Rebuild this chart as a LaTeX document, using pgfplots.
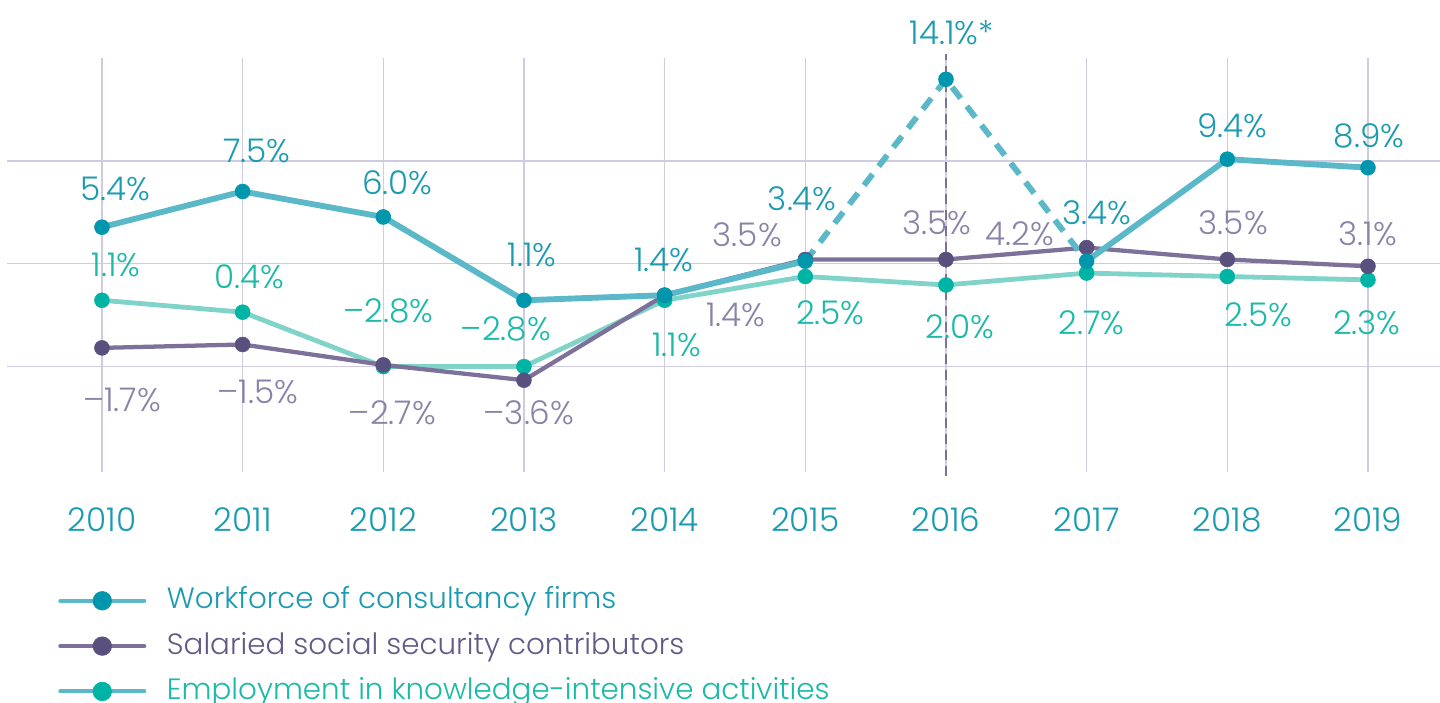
\documentclass[border=0pt]{standalone}
\usepackage{fontspec}
\setmainfont{Poppins}[UprightFont=* Light]
\usepackage{pgfplots}
\usepackage{pgfplotstable}
\pgfplotsset{compat=1.18}

\definecolor{cline}{RGB}{91,184,201}
\definecolor{cmark}{RGB}{0,150,174}
\definecolor{ctext}{RGB}{26,155,176}
\definecolor{sline}{RGB}{125,112,153}
\definecolor{smark}{RGB}{90,80,125}
\definecolor{stext}{RGB}{139,130,168}
\definecolor{slegend}{RGB}{100,90,135}
\definecolor{kline}{RGB}{128,211,200}
\definecolor{kmark}{RGB}{0,180,165}
\definecolor{ktext}{RGB}{26,185,168}
\definecolor{gridc}{RGB}{208,204,224}

% x, y, label offset (dx right, dy up) in pixels of the 1440 px picture
\pgfplotstableread{
x y dx dy lab
2010 5.4 13 38 5.4\%
2011 7.5 14 41 7.5\%
2012 6.0 14 34 6.0\%
2013 1.1 8 45 1.1\%
2014 1.4 -1 35 1.4\%
2015 3.4 -3 62 3.4\%
2016 14.1 6 47 14.1\%*
2017 3.4 10 48 3.4\%
2018 9.4 5 33 9.4\%
2019 8.9 1 32 8.9\%
}\consult

\pgfplotstableread{
x y dx dy lab
2010 -1.7 20 -52 –1.7\%
2011 -1.5 15 -47 –1.5\%
2012 -2.7 9 -48 –2.7\%
2013 -3.6 5 -33 –3.6\%
2014 1.4 71 -20 1.4\%
2015 3.5 -58 25 3.5\%
2016 3.5 -9 37 3.5\%
2017 4.2 -67 14 4.2\%
2018 3.5 6 37 3.5\%
2019 3.1 0 33 3.1\%
}\salaried

\pgfplotstableread{
x y dx dy lab
2010 1.1 14 35 1.1\%
2011 0.4 7 35 0.4\%
2012 -2.8 5 56 –2.8\%
2013 -2.8 -18 38 –2.8\%
2014 1.1 12 -45 1.1\%
2015 2.5 25 -36 2.5\%
2016 2.0 14 -42 2.0\%
2017 2.7 5 -50 2.7\%
2018 2.5 31 -38 2.5\%
2019 2.3 -1 -43 2.3\%
}\knowledge

\pgfplotsset{
  labelled/.style={
    only marks,
    mark=*,
    mark size=5.6pt,
    point meta=explicit symbolic,
    visualization depends on={\thisrow{dx} \as \dx},
    visualization depends on={\thisrow{dy} \as \dy},
    nodes near coords,
    nodes near coords style={anchor=center, inner sep=0pt,
      xshift=\dx*0.75pt, yshift=\dy*0.75pt,
      font=\fontsize{24.5}{24.5}\selectfont, text=#1},
  },
  legimg/.style n args={2}{
    legend image code/.code={
      \draw[line width=3pt, color=#1, line cap=round] (0pt,0pt) -- (63pt,0pt);
      \fill[#2] (31.5pt,0pt) circle (7pt);
    }
  },
}

\begin{document}
\begin{tikzpicture}
\useasboundingbox (0,0) rectangle (1080pt,-527.25pt);
\begin{axis}[
  at={(5.25pt,-354pt)}, anchor=south west,
  width=1074.75pt, height=310.5pt, scale only axis,
  xmin=2009.325, xmax=2019.512,
  ymin=-9, ymax=15.35,
  clip=false,
  axis line style={draw=none},
  xtick={2010,2011,2012,2013,2014,2015,2016,2017,2018,2019},
  xticklabels={2010,2011,2012,2013,2014,2015,2016,2017,2018,2019},
  ytick={-2.8,3.25,9.3},
  yticklabels={},
  major tick length=0pt,
  xmajorgrids, ymajorgrids,
  major grid style={color=gridc, line width=1.1pt},
  xticklabel style={anchor=center, yshift=-36pt,
    font=\fontsize{24.5}{24.5}\selectfont, text=ctext},
  reverse legend,
  legend cell align=left,
  legend style={at={(axis description cs:0.0356,-0.275)}, anchor=north west,
    draw=none, fill=none, inner sep=0pt, row sep=12pt,
    nodes={inner sep=0pt, text height=17pt, text depth=5pt,
      font=\fontsize{22}{22}\selectfont},
    /tikz/every odd column/.append style={column sep=15.5pt}},
]
% vertical marker for 2016
\addplot[forget plot, color=sline, line width=2.2pt,
  dash pattern=on 7.5pt off 4.5pt] coordinates {(2016,-9.25) (2016,15.6)};

% knowledge-intensive activities
\addplot[forget plot, color=kline, line width=3.6pt] table[x=x,y=y] {\knowledge};
\addplot[labelled=ktext, color=kmark, legimg={cline}{kmark}]
  table[x=x,y=y,meta=lab] {\knowledge};
\addlegendentry[text=ktext]{Employment in knowledge-intensive activities}

% salaried contributors
\addplot[forget plot, color=sline, line width=3.2pt] table[x=x,y=y] {\salaried};
\addplot[labelled=stext, color=smark, legimg={sline}{smark}]
  table[x=x,y=y,meta=lab] {\salaried};
\addlegendentry[text=slegend]{Salaried social security contributors}

% consultancy workforce
\addplot[forget plot, color=cline, line width=4.4pt,
  restrict x to domain=2010:2015] table[x=x,y=y] {\consult};
\addplot[forget plot, color=cline, line width=4.4pt,
  dash pattern=on 10.5pt off 7.5pt,
  restrict x to domain=2015:2017] table[x=x,y=y] {\consult};
\addplot[forget plot, color=cline, line width=4.4pt,
  restrict x to domain=2017:2019] table[x=x,y=y] {\consult};
\addplot[labelled=ctext, color=cmark, legimg={cline}{cmark}]
  table[x=x,y=y,meta=lab] {\consult};
\addlegendentry[text=ctext]{Workforce of consultancy firms}
\end{axis}
\end{tikzpicture}
\end{document}
